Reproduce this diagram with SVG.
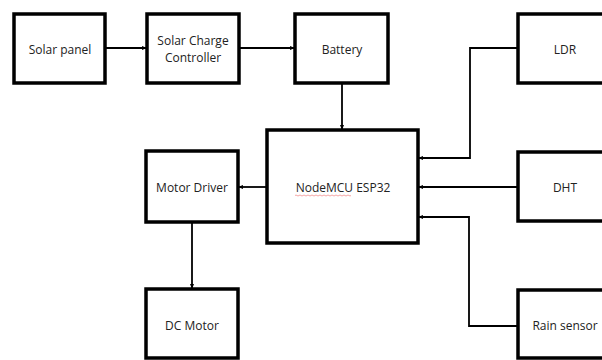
<svg xmlns="http://www.w3.org/2000/svg" width="602" height="360" viewBox="0 0 602 360">
<defs>
<marker id="arr" viewBox="0 0 10 10" refX="10" refY="5" markerWidth="5" markerHeight="5" orient="auto" markerUnits="userSpaceOnUse">
<path d="M0,1 L10,5 L0,9 z" fill="#000"/>
</marker>
<style>
.box{fill:#fff;stroke:#000;stroke-width:3.5}
.lbl{font-family:"Open Sans","Liberation Sans",sans-serif;font-size:12px;fill:#222;text-anchor:middle;dominant-baseline:central}
.con{fill:none;stroke:#000;stroke-width:1.8;marker-end:url(#arr)}
</style>
</defs>
<rect width="602" height="360" fill="#fff"/>
<g id="connectors">
<path class="con" d="M105,48 H147"/>
<path class="con" d="M239,48 H295"/>
<path class="con" d="M342,84 V130"/>
<path class="con" d="M267,187 H238"/>
<path class="con" d="M192,222 V289"/>
<path class="con" d="M518,48 H470 V158 H418"/>
<path class="con" d="M518,187 H418"/>
<path class="con" d="M518,326 H469 V217 H418"/>
</g>
<g id="solar-panel"><rect class="box" x="14" y="14" width="91" height="69"/><text class="lbl" x="60" y="49">Solar panel</text></g>
<g id="charge-controller"><rect class="box" x="147" y="14" width="92" height="69"/><text class="lbl" x="193" y="40">Solar Charge</text><text class="lbl" x="193" y="57">Controller</text></g>
<g id="battery"><rect class="box" x="295" y="14" width="93" height="69"/><text class="lbl" x="342" y="49">Battery</text></g>
<g id="ldr"><rect class="box" x="518" y="14" width="95" height="69"/><text class="lbl" x="565" y="49">LDR</text></g>
<g id="nodemcu"><rect class="box" x="267" y="130" width="151" height="113"/><text class="lbl" x="343" y="187">NodeMCU ESP32</text>
<path d="M295,195.5 q1,-1 2,0 t2,0 t2,0 t2,0 t2,0 t2,0 t2,0 t2,0 t2,0 t2,0 t2,0 t2,0 t2,0 t2,0 t2,0 t2,0 t2,0 t2,0 t2,0 t2,0 t2,0 t2,0 t2,0 t2,0 t2,0 t2,0 t2,0 t2,0" fill="none" stroke="#f08080" stroke-width="0.7"/></g>
<g id="motor-driver"><rect class="box" x="146" y="151" width="92" height="71"/><text class="lbl" x="192" y="187">Motor Driver</text></g>
<g id="dht"><rect class="box" x="518" y="152" width="95" height="69"/><text class="lbl" x="565" y="187">DHT</text></g>
<g id="dc-motor"><rect class="box" x="146" y="289" width="92" height="69"/><text class="lbl" x="192" y="325">DC Motor</text></g>
<g id="rain-sensor"><rect class="box" x="518" y="290" width="95" height="68"/><text class="lbl" x="565" y="325">Rain sensor</text></g>
</svg>
